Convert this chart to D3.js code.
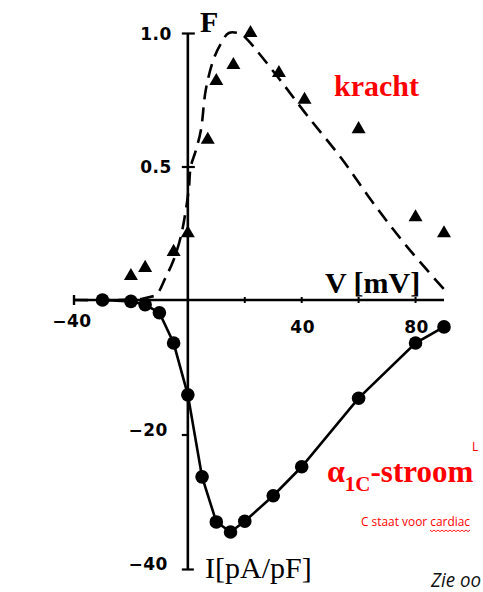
<!DOCTYPE html>
<html>
<head>
<meta charset="utf-8">
<script src="https://cdn.jsdelivr.net/npm/d3@7/dist/d3.min.js"></script>
<style>
  html, body { margin: 0; padding: 0; background: #fff; overflow: hidden; }
  svg { display: block; }
</style>
</head>
<body>
<script>
// ---- data ----
const forceV = [-20, -15, -5, 0, 7, 10, 16, 22, 32, 41, 60, 80, 90];
const forceF = [0.09, 0.12, 0.18, 0.25, 0.60, 0.82, 0.88, 1.0, 0.85, 0.75, 0.64, 0.31, 0.25];

const fitV = [-40, -25, -16, -13, -11, -8, -5, -2.5, -0.7, 0.4, 1, 2.8, 4.6, 6.3, 9, 11.6, 14.4, 18.6, 21, 31.6, 42, 54, 65, 77, 90];
const fitF = [0, 0, 0.005, 0.012, 0.02, 0.08, 0.15, 0.236, 0.337, 0.423, 0.498, 0.56, 0.637, 0.787, 0.9, 0.96, 1.0, 0.996, 0.974, 0.835, 0.69, 0.53, 0.365, 0.2, 0.04];

const currentV = [-30, -20, -15, -10, -5, 0, 5, 10, 15, 20, 30, 40, 60, 80, 90];
const currentI = [0, -0.2, -0.7, -1.9, -6.4, -14.1, -26.3, -33, -34.5, -32.9, -29.1, -24.8, -14.6, -6.4, -4.0];

const xTickValues = [-40, 40, 80];
const xMinorTicks = [20, 40, 60, 80];
const fTickValues = [0.5, 1.0];
const iTickValues = [-20, -40];

// ---- setup ----
const W = 483, H = 592;
const svg = d3.select("body").append("svg").attr("width", W).attr("height", H);

const x = d3.scaleLinear().domain([-40, 90]).range([74, 444]);
const yF = d3.scaleLinear().domain([0, 1]).range([300, 33]);
const yI = d3.scaleLinear().domain([-40, 0]).range([569, 300]);

const ink = "#000";
const tickFont = "'DejaVu Sans', sans-serif";
const serif = "'Liberation Serif', 'Times New Roman', serif";

// ---- axes lines ----
svg.append("line").attr("x1", x(-40)).attr("x2", x(90)).attr("y1", yF(0)).attr("y2", yF(0))
  .attr("stroke", ink).attr("stroke-width", 2.6);
svg.append("line").attr("x1", x(0)).attr("x2", x(0)).attr("y1", yF(1)).attr("y2", yI(-40))
  .attr("stroke", ink).attr("stroke-width", 2.6);

// x axis ticks (small marks) and end cap
const gxT = svg.append("g");
gxT.selectAll("line.minor").data(xMinorTicks).join("line")
  .attr("x1", d => x(d)).attr("x2", d => x(d))
  .attr("y1", yF(0) - 3).attr("y2", yF(0) + 3)
  .attr("stroke", ink).attr("stroke-width", 2);
gxT.append("line").attr("x1", x(-40)).attr("x2", x(-40))
  .attr("y1", yF(0) - 5).attr("y2", yF(0) + 5).attr("stroke", ink).attr("stroke-width", 2.4);

// x tick labels
svg.append("g").selectAll("text").data(xTickValues).join("text")
  .attr("x", d => d === -40 ? x(d) - 2 : x(d) + 1)
  .attr("y", d => d === -40 ? 327 : 333)
  .attr("text-anchor", "middle")
  .attr("font-family", tickFont).attr("font-weight", "bold").attr("font-size", 17)
  .attr("letter-spacing", 0.5)
  .attr("fill", ink)
  .text(d => d3.format("d")(d));

// y axis (F) ticks via d3 axis
const axF = svg.append("g").attr("transform", `translate(${x(0)},0)`)
  .call(d3.axisLeft(yF).tickValues(fTickValues).tickSize(6).tickPadding(10).tickFormat(d3.format(".1f")));
axF.select(".domain").remove();
axF.selectAll(".tick line").attr("stroke", ink).attr("stroke-width", 2.2).attr("x2", -6).attr("x1", 7);
axF.selectAll(".tick text").attr("font-family", tickFont).attr("font-weight", "bold")
  .attr("font-size", 17).attr("letter-spacing", 0.5).attr("fill", ink).attr("dy", "0.38em");

const axI = svg.append("g").attr("transform", `translate(${x(0)},0)`)
  .call(d3.axisLeft(yI).tickValues(iTickValues).tickSize(6).tickPadding(14).tickFormat(d3.format("d")));
axI.select(".domain").remove();
axI.selectAll(".tick line").attr("stroke", ink).attr("stroke-width", 2.2)
  .attr("x1", d => d === -40 ? 6 : 0).attr("x2", -6);
axI.selectAll(".tick text").attr("font-family", tickFont).attr("font-weight", "bold")
  .attr("font-size", 17).attr("letter-spacing", 0.5).attr("fill", ink).attr("dy", "0.05em");

// ---- force fit (dashed) ----
const fitData = fitV.map((v, i) => [v, fitF[i]]);
svg.append("path").datum(fitData)
  .attr("d", d3.line().x(d => x(d[0])).y(d => yF(d[1])).curve(d3.curveCatmullRom.alpha(0.5)))
  .attr("fill", "none").attr("stroke", ink).attr("stroke-width", 2.6)
  .attr("stroke-dasharray", "14,8");

// ---- current line ----
const curData = currentV.map((v, i) => [v, currentI[i]]);
svg.append("path").datum(curData)
  .attr("d", d3.line().x(d => x(d[0])).y(d => yI(d[1])).curve(d3.curveLinear))
  .attr("fill", "none").attr("stroke", ink).attr("stroke-width", 2.6);

svg.append("g").selectAll("circle").data(curData).join("circle")
  .attr("cx", d => x(d[0])).attr("cy", d => yI(d[1])).attr("r", 6.8).attr("fill", ink);

// ---- force triangles ----
const triData = forceV.map((v, i) => [v, forceF[i]]);
svg.append("g").selectAll("path").data(triData).join("path")
  .attr("d", d3.symbol().type(d3.symbolTriangle).size(85))
  .attr("transform", d => `translate(${x(d[0])},${yF(d[1])})`)
  .attr("fill", ink);

// ---- titles ----
svg.append("text").attr("x", 200).attr("y", 32)
  .attr("font-family", serif).attr("font-weight", "bold").attr("font-size", 30).attr("fill", ink).text("F");
svg.append("text").attr("x", 325).attr("y", 293)
  .attr("font-family", serif).attr("font-weight", "bold").attr("font-size", 30).attr("fill", ink).text("V [mV]");
svg.append("text").attr("x", 205).attr("y", 578)
  .attr("font-family", serif).attr("font-size", 30).attr("fill", ink).text("I[pA/pF]");

const red = "#ff0000";
svg.append("text").attr("x", 334).attr("y", 96)
  .attr("font-family", serif).attr("font-weight", "bold").attr("font-size", 30).attr("fill", red).text("kracht");

const st = svg.append("text").attr("x", 327).attr("y", 482)
  .attr("font-family", serif).attr("font-weight", "bold").attr("fill", red);
st.append("tspan").attr("font-size", 32).text("α");
st.append("tspan").attr("font-size", 21).attr("dy", 9).text("1C");
st.append("tspan").attr("font-size", 31).attr("dy", -9).text("-stroom");

svg.append("text").attr("x", 472).attr("y", 451)
  .attr("font-family", "'Open Sans', sans-serif").attr("font-size", 12).attr("fill", red)
  .text("L");

svg.append("text").attr("x", 361).attr("y", 526)
  .attr("font-family", "'Open Sans', sans-serif").attr("font-size", 13).attr("fill", red)
  .attr("textLength", 109).attr("lengthAdjust", "spacingAndGlyphs")
  .text("C staat voor cardiac");

// spell-check squiggle under "cardiac"
const sq = d3.range(0, 21).map(i => [430 + i * 2, 530 + (i % 2 === 0 ? 0 : 1.6)]);
svg.append("path").attr("d", d3.line()(sq)).attr("fill", "none").attr("stroke", red).attr("stroke-width", 0.9);

svg.append("text").attr("x", 431).attr("y", 587)
  .attr("font-family", "'Open Sans', sans-serif").attr("font-style", "italic").attr("font-size", 20)
  .attr("textLength", 50).attr("lengthAdjust", "spacingAndGlyphs")
  .attr("fill", "#111").text("Zie oo");
</script>
</body>
</html>
